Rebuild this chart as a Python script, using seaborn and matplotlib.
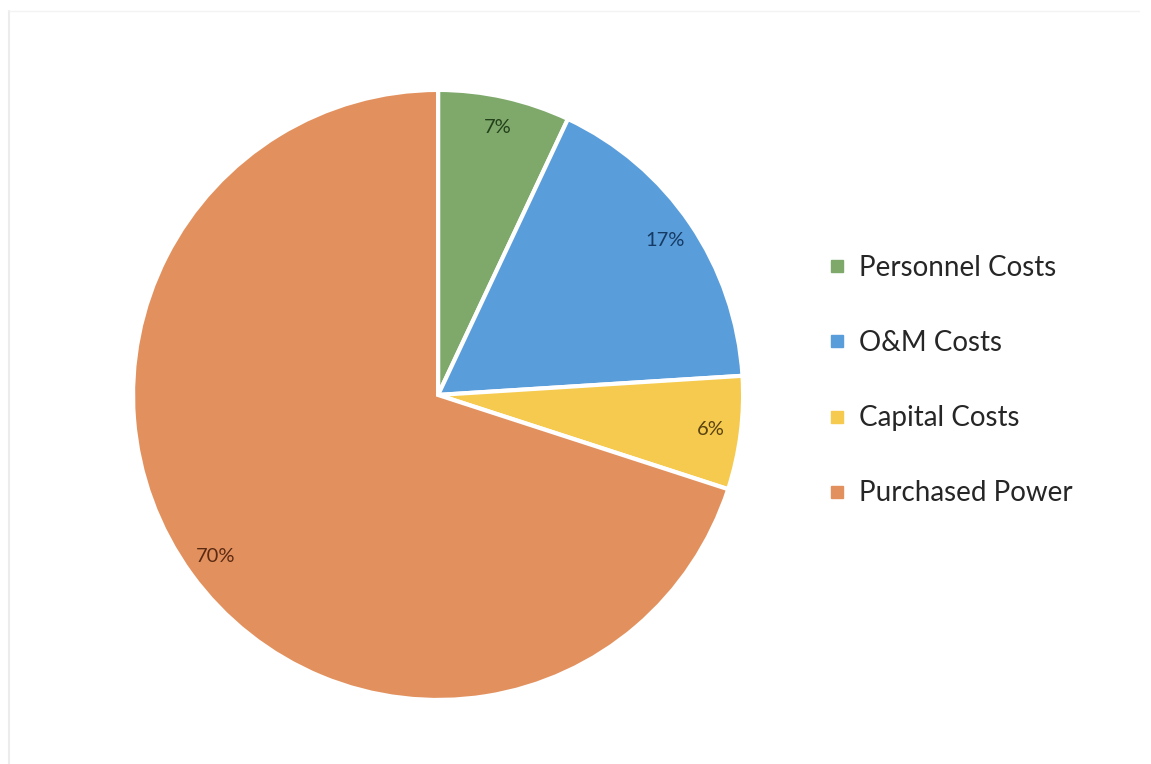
import matplotlib
matplotlib.use("Agg")
import matplotlib.pyplot as plt
from matplotlib.lines import Line2D
import seaborn as sns

# Cost breakdown shares (percent)
categories = ["Personnel Costs", "O&M Costs", "Capital Costs", "Purchased Power"]
shares = [7, 17, 6, 70]

slice_colors = ["#7ea96b", "#5a9ddb", "#f5ca4e", "#e2915e"]
label_colors = ["#23401a", "#153a63", "#5a4210", "#5a2a12"]

sns.set_theme(style="white")
plt.rcParams["font.family"] = ["Lato", "DejaVu Sans"]
palette = sns.color_palette(slice_colors)

fig = plt.figure(figsize=(11.51, 7.64), dpi=100)
fig.patch.set_facecolor("white")

ax = fig.add_axes([0.1156, 0.0838, 0.530, 0.7985])
wedges, texts, autotexts = ax.pie(
    shares,
    colors=palette,
    startangle=90,
    counterclock=False,
    autopct="%1.0f%%",
    pctdistance=0.9,
    wedgeprops=dict(edgecolor="white", linewidth=3),
    textprops=dict(fontsize=14.5),
)
for t, c in zip(autotexts, label_colors):
    t.set_color(c)
ax.set_xlim(-1.0, 1.0)
ax.set_ylim(-1.0, 1.0)
ax.set_aspect("equal")
ax.axis("off")

handles = [
    Line2D([], [], marker="s", linestyle="none", markersize=9,
           markerfacecolor=col, markeredgecolor=col)
    for col in palette
]
leg = fig.legend(
    handles, categories,
    loc="upper left",
    bbox_to_anchor=(0.697, 0.699),
    frameon=False,
    fontsize=20,
    labelspacing=1.77,
    handlelength=0.7,
    handletextpad=0.45,
)
for t in leg.get_texts():
    t.set_color("#262626")

# faint page edges
fig.add_artist(Line2D([0.008, 0.008], [0.0, 0.985], color="#ececec", lw=1.5,
                      transform=fig.transFigure))
fig.add_artist(Line2D([0.008, 0.99], [0.985, 0.985], color="#f3f3f3", lw=1.0,
                      transform=fig.transFigure))

fig.savefig("out.png", dpi=100, facecolor="white")
